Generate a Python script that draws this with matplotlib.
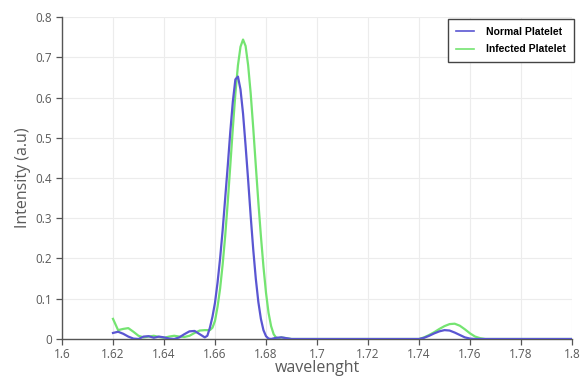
"""Normal vs infected platelet spectrum, redrawn from a reference figure."""

import matplotlib

matplotlib.use("Agg")
import matplotlib.pyplot as plt


# Values
NORMAL_X = [
    1.620, 1.622, 1.624, 1.626, 1.628, 1.630, 1.632, 1.634, 1.636, 1.638,
    1.640, 1.642, 1.644, 1.646, 1.648, 1.650, 1.652, 1.654, 1.656, 1.657,
    1.658, 1.659, 1.660, 1.661, 1.662, 1.663, 1.664, 1.665, 1.666, 1.667,
    1.668, 1.669, 1.670, 1.671, 1.672, 1.673, 1.674, 1.675, 1.676, 1.677,
    1.678, 1.679, 1.680, 1.681, 1.682, 1.684, 1.686, 1.688, 1.690, 1.700,
    1.740, 1.742, 1.744, 1.746, 1.748, 1.750, 1.752, 1.754, 1.756, 1.758,
    1.760, 1.762, 1.800,
]
NORMAL_Y = [
    0.015, 0.018, 0.013, 0.006, 0.001, 0.000, 0.006, 0.007, 0.003, 0.006,
    0.004, 0.001, 0.000, 0.004, 0.012, 0.019, 0.020, 0.012, 0.004, 0.008,
    0.028, 0.055, 0.090, 0.140, 0.200, 0.270, 0.350, 0.430, 0.515, 0.590,
    0.645, 0.652, 0.620, 0.560, 0.480, 0.395, 0.305, 0.222, 0.150, 0.092,
    0.050, 0.022, 0.007, 0.001, 0.000, 0.003, 0.004, 0.002, 0.000, 0.000,
    0.000, 0.003, 0.008, 0.014, 0.019, 0.022, 0.021, 0.016, 0.010, 0.004,
    0.001, 0.000, 0.000,
]

INFECTED_X = [
    1.620, 1.622, 1.624, 1.626, 1.628, 1.630, 1.632, 1.634, 1.636, 1.638,
    1.640, 1.642, 1.644, 1.646, 1.648, 1.650, 1.652, 1.654, 1.656, 1.658,
    1.659, 1.660, 1.661, 1.662, 1.663, 1.664, 1.665, 1.666, 1.667, 1.668,
    1.669, 1.670, 1.671, 1.672, 1.673, 1.674, 1.675, 1.676, 1.677, 1.678,
    1.679, 1.680, 1.681, 1.682, 1.683, 1.684, 1.685, 1.686, 1.688, 1.690,
    1.700, 1.740, 1.742, 1.744, 1.746, 1.748, 1.750, 1.752, 1.754, 1.756,
    1.758, 1.760, 1.762, 1.764, 1.766, 1.800,
]
INFECTED_Y = [
    0.050, 0.022, 0.025, 0.027, 0.018, 0.008, 0.004, 0.006, 0.008, 0.005,
    0.003, 0.006, 0.008, 0.006, 0.005, 0.008, 0.015, 0.021, 0.022, 0.022,
    0.028, 0.045, 0.080, 0.125, 0.185, 0.256, 0.340, 0.431, 0.524, 0.610,
    0.680, 0.726, 0.744, 0.728, 0.680, 0.610, 0.524, 0.431, 0.340, 0.256,
    0.180, 0.115, 0.065, 0.032, 0.012, 0.003, 0.002, 0.004, 0.002, 0.000,
    0.000, 0.000, 0.004, 0.010, 0.017, 0.025, 0.032, 0.037, 0.038, 0.033,
    0.024, 0.014, 0.006, 0.002, 0.000, 0.000,
]

X_TICKS = [1.6, 1.62, 1.64, 1.66, 1.68, 1.7, 1.72, 1.74, 1.76, 1.78, 1.8]
X_TICK_LABELS = ["1.6", "1.62", "1.64", "1.66", "1.68", "1.7", "1.72",
                 "1.74", "1.76", "1.78", "1.8"]
Y_TICKS = [0, 0.1, 0.2, 0.3, 0.4, 0.5, 0.6, 0.7, 0.8]
Y_TICK_LABELS = ["0", "0.1", "0.2", "0.3", "0.4", "0.5", "0.6", "0.7", "0.8"]

NORMAL_COLOR = "#5a56d2"
INFECTED_COLOR = "#74e471"
TEXT_COLOR = "#5a5a5a"


def main():
    plt.rcParams["font.family"] = ["Open Sans", "DejaVu Sans"]

    fig = plt.figure(figsize=(5.81, 3.78), dpi=100)
    ax = fig.add_axes([0.1067, 0.1032, 0.8778, 0.8518])

    ax.plot(INFECTED_X, INFECTED_Y, color=INFECTED_COLOR, lw=1.6,
            label="Infected Platelet", zorder=2)
    ax.plot(NORMAL_X, NORMAL_Y, color=NORMAL_COLOR, lw=1.6,
            label="Normal Platelet", zorder=3)

    ax.set_xlim(1.6, 1.8)
    ax.set_ylim(0, 0.8)
    ax.set_xticks(X_TICKS, X_TICK_LABELS)
    ax.set_yticks(Y_TICKS, Y_TICK_LABELS)
    ax.tick_params(colors="#555555", labelcolor=TEXT_COLOR, labelsize=8.5,
                   length=4, width=0.9, direction="out", pad=2.5)
    ax.tick_params(axis="y", pad=3)
    ax.grid(color="#ececec", lw=0.8)
    ax.set_axisbelow(True)

    for side in ("top", "right"):
        ax.spines[side].set_visible(False)
    for side in ("left", "bottom"):
        ax.spines[side].set_color("#555555")
        ax.spines[side].set_linewidth(1.0)

    ax.set_xlabel("wavelenght", fontsize=11.5, color=TEXT_COLOR, labelpad=-1)
    ax.set_ylabel("Intensity (a.u)", fontsize=11.5, color=TEXT_COLOR,
                  labelpad=3)

    handles, labels = ax.get_legend_handles_labels()
    leg = ax.legend(
        handles[::-1], labels[::-1],
        loc="upper right",
        bbox_to_anchor=(1.003, 0.993),
        borderaxespad=0.0,
        fancybox=False,
        framealpha=1,
        edgecolor="#444444",
        handlelength=1.8,
        handletextpad=1.1,
        borderpad=0.75,
        labelspacing=0.7,
        prop={"family": ["Liberation Sans", "DejaVu Sans"],
              "weight": "bold", "size": 7.5},
    )
    leg.get_frame().set_linewidth(1.0)
    for line in leg.get_lines():
        line.set_linewidth(1.2)

    fig.savefig("out.png", dpi=100)
    plt.close(fig)


if __name__ == "__main__":
    main()
